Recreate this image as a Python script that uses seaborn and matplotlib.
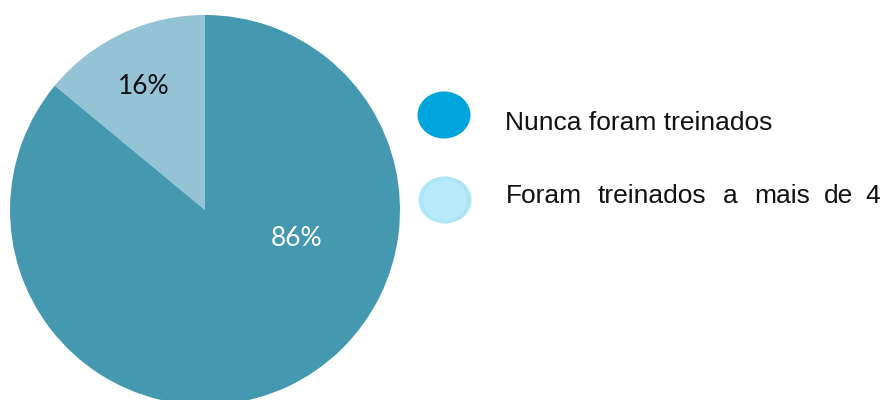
import matplotlib
matplotlib.use("Agg")
import matplotlib.pyplot as plt
import seaborn as sns
from matplotlib.patches import Ellipse

# slice shares (light slice first, counter-clockwise from 12 o'clock)
categories = ['Foram treinados a mais de 4', 'Nunca foram treinados']
shares = [14, 86]
pct_labels = ['16%', '86%']
slice_colors = ['#94c3d6', '#4499b0']
legend_colors = ['#aee6f7', '#00a4dc']

sns.set_theme(style="white")
plt.rcParams['font.family'] = ['Liberation Sans', 'DejaVu Sans']

fig = plt.figure(figsize=(8.88, 4.0), dpi=100)
ax = fig.add_axes([0, 0, 1, 1])

# pie drawn in pixel-like coords
ax.pie(shares, colors=slice_colors, startangle=90, counterclock=True,
       center=(205, 190), radius=195, frame=True,
       wedgeprops=dict(linewidth=0))
ax.set_xlim(0, 888)
ax.set_ylim(0, 400)
ax.set_aspect('equal')
ax.axis('off')

# percent labels
ax.text(144, 313, pct_labels[0], ha='center', va='center', fontsize=19,
        family=['Lato', 'DejaVu Sans'], color='#111111')
ax.text(297, 161, pct_labels[1], ha='center', va='center', fontsize=19,
        family=['Lato', 'DejaVu Sans'], color='white')

# legend
ax.add_patch(Ellipse((444, 285), 53, 47, color=legend_colors[1], lw=0))
ax.add_patch(Ellipse((445, 200), 53, 47, color=legend_colors[0], lw=0))
ax.add_patch(Ellipse((445, 200), 44, 39, color='#b8ebfa', lw=0))

ax.text(505, 270, categories[1], ha='left', va='baseline', fontsize=19, color='#111111')

# second line is justified in the original, so words are spread out
words = categories[0].split()
word_x = [506, 598, 723, 754, 824, 865]
for w, x in zip(words, word_x):
    ax.text(x, 197, w, ha='left', va='baseline', fontsize=19, color='#111111')

fig.savefig('out.png', dpi=100)
